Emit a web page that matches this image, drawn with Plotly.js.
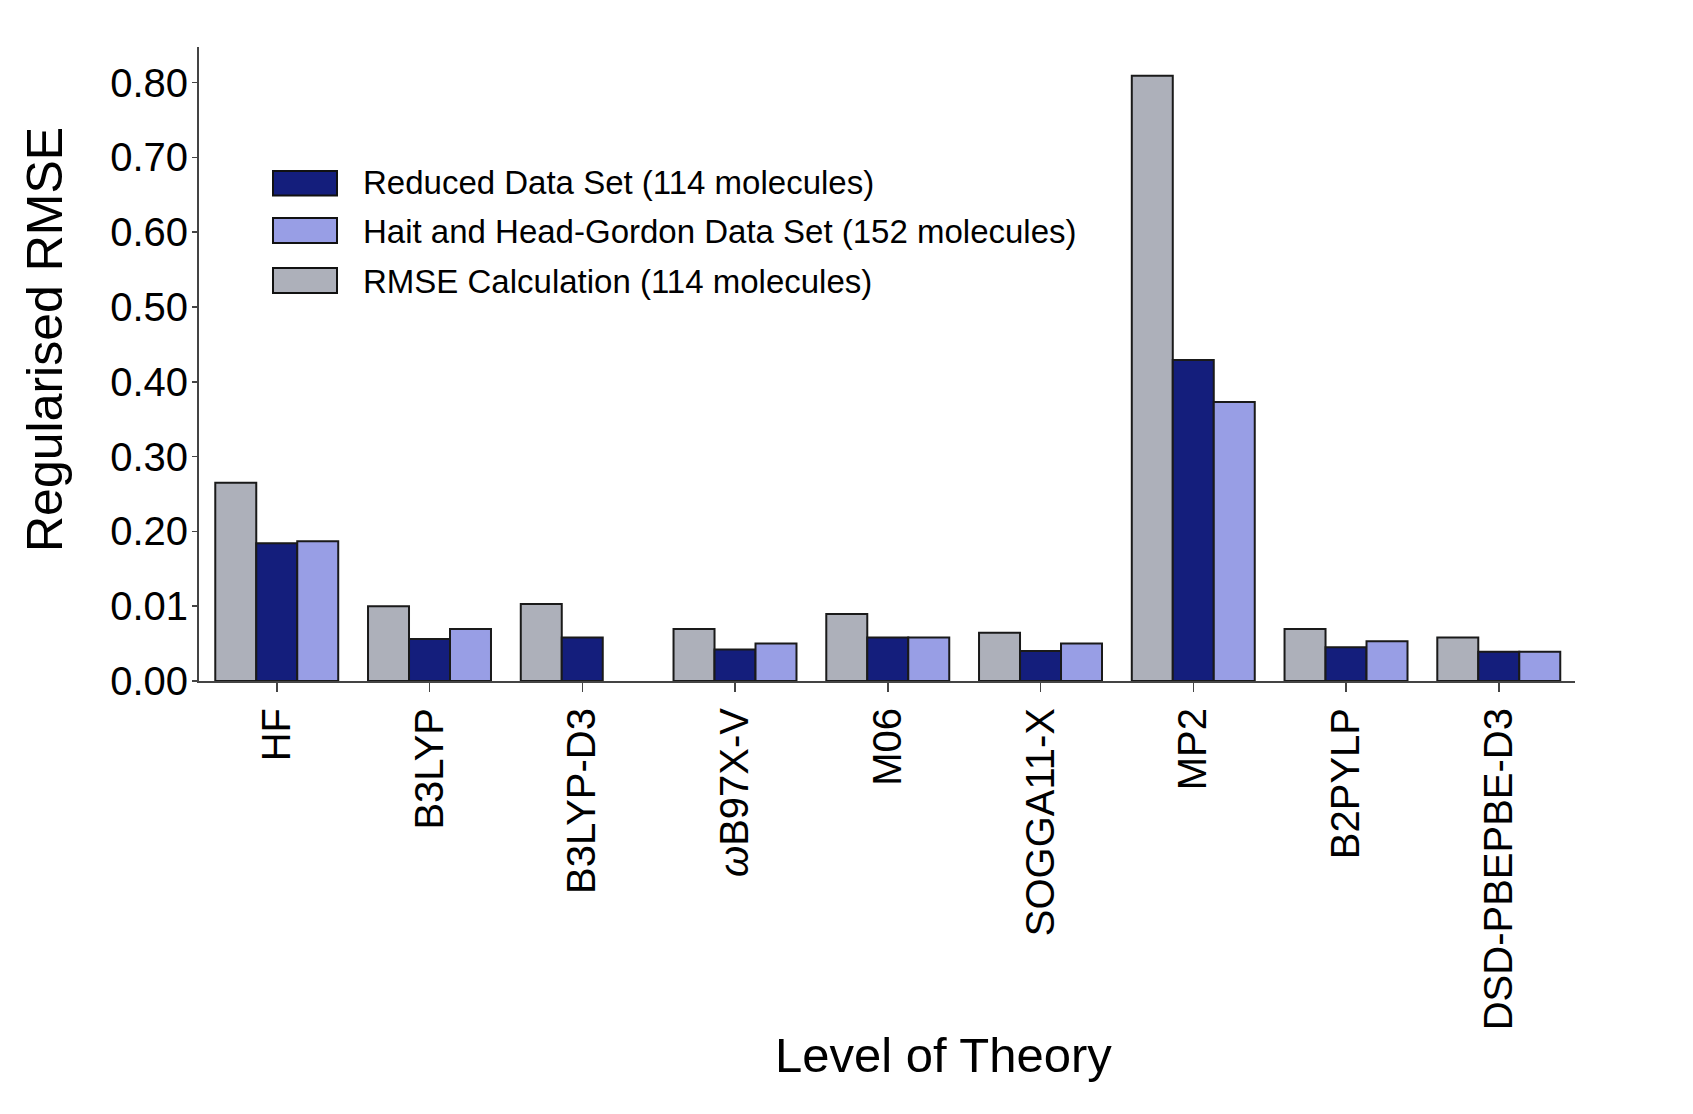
<!DOCTYPE html>
<html>
<head>
<meta charset="utf-8">
<script src="https://cdn.plot.ly/plotly-3.0.1.min.js"></script>
<style>html,body{margin:0;padding:0;background:#fff;}</style>
</head>
<body>
<div id="chart" style="width:1693px;height:1114px;"></div>
<script>
// ---- data ----
var categories = ["HF", "B3LYP", "B3LYP-D3", "ωB97X-V", "M06", "SOGGA11-X", "MP2", "B2PYLP", "DSD-PBEPBE-D3"];
var tickLabels = ["HF", "B3LYP", "B3LYP-D3", "<i>ω</i>B97X-V", "M06", "SOGGA11-X", "MP2", "B2PYLP", "DSD-PBEPBE-D3"];
var rmseCalc = [0.265, 0.100, 0.103, 0.0695, 0.0896, 0.0646, 0.809, 0.0695, 0.058];
var reduced  = [0.184, 0.056, 0.058, 0.042, 0.058, 0.040, 0.429, 0.045, 0.039];
var hait     = [0.187, 0.0695, null, 0.050, 0.058, 0.050, 0.373, 0.053, 0.039];
var seriesNames = ["RMSE Calculation (114 molecules)", "Reduced Data Set (114 molecules)", "Hait and Head-Gordon Data Set (152 molecules)"];
var yTickVals = [0, 0.1, 0.2, 0.3, 0.4, 0.5, 0.6, 0.7, 0.8];
var yTickText = ["0.00", "0.01", "0.20", "0.30", "0.40", "0.50", "0.60", "0.70", "0.80"];

// ---- styles ----
var colors = ["#adb0ba", "#141e7c", "#989ee5"];
var FONT = "Liberation Sans, Arial, Helvetica, sans-serif";
var W = 1693, H = 1114;
var M = {l: 199, r: 118, t: 47, b: 433};
var pw = W - M.l - M.r, ph = H - M.t - M.b;
function px2x(px) { return (px - M.l) / pw; }
function px2y(py) { return (H - M.b - py) / ph; }

var seriesVals = [rmseCalc, reduced, hait];
var traces = seriesVals.map(function (vals, i) {
  return {
    type: "bar", x: categories, y: vals, name: seriesNames[i],
    marker: {color: colors[i], line: {color: "#1a1a1a", width: 2}},
    showlegend: false, hoverinfo: "x+y+name"
  };
});

// custom legend (order: Reduced, Hait, RMSE)
var legendOrder = [1, 2, 0];
var legendRows = [{y0: 171, y1: 195.5, ty: 182}, {y0: 218, y1: 243, ty: 231.5}, {y0: 268, y1: 293, ty: 281}];
var shapes = [], annotations = [];
legendOrder.forEach(function (si, r) {
  var row = legendRows[r];
  shapes.push({type: "rect", xref: "paper", yref: "paper",
    x0: px2x(273), x1: px2x(337), y0: px2y(row.y1), y1: px2y(row.y0),
    fillcolor: colors[si], line: {color: "#111", width: 2}});
  annotations.push({xref: "paper", yref: "paper", x: px2x(361), y: px2y(row.ty),
    xanchor: "left", yanchor: "middle", showarrow: false, text: seriesNames[si],
    font: {family: FONT, size: 33, color: "#000"}});
});
annotations.push({xref: "paper", yref: "paper", x: px2x(45), y: px2y(340),
  xanchor: "center", yanchor: "middle", showarrow: false, textangle: -90,
  text: "Regularised RMSE", font: {family: FONT, size: 50, color: "#000"}});
annotations.push({xref: "paper", yref: "paper", x: px2x(943), y: px2y(1055),
  xanchor: "center", yanchor: "middle", showarrow: false,
  text: "Level of Theory", font: {family: FONT, size: 49, color: "#000"}});

var layout = {
  width: W, height: H, margin: M,
  paper_bgcolor: "#fff", plot_bgcolor: "#fff",
  font: {family: FONT, color: "#000"},
  barmode: "group", bargap: 0.195, bargroupgap: 0,
  showlegend: false,
  xaxis: {
    type: "category", range: [-0.509, 8.499], categoryorder: "array", categoryarray: categories,
    tickvals: categories, ticktext: tickLabels, tickangle: -90,
    tickfont: {family: FONT, size: 40, color: "#000"},
    showline: true, linecolor: "#444", linewidth: 2,
    ticks: "outside", ticklen: 9, tickwidth: 1.5, tickcolor: "#444",
    showgrid: false, zeroline: false, fixedrange: true
  },
  yaxis: {
    range: [0, 0.8476], tickvals: yTickVals, ticktext: yTickText,
    tickfont: {family: FONT, size: 40, color: "#000"},
    showline: true, linecolor: "#444", linewidth: 2,
    ticks: "outside", ticklen: 5, tickwidth: 1.5, tickcolor: "#444",
    ticklabelstandoff: -4,
    showgrid: false, zeroline: false, fixedrange: true
  },
  shapes: shapes,
  annotations: annotations
};

Plotly.newPlot("chart", traces, layout, {staticPlot: true, displayModeBar: false});
</script>
</body>
</html>
